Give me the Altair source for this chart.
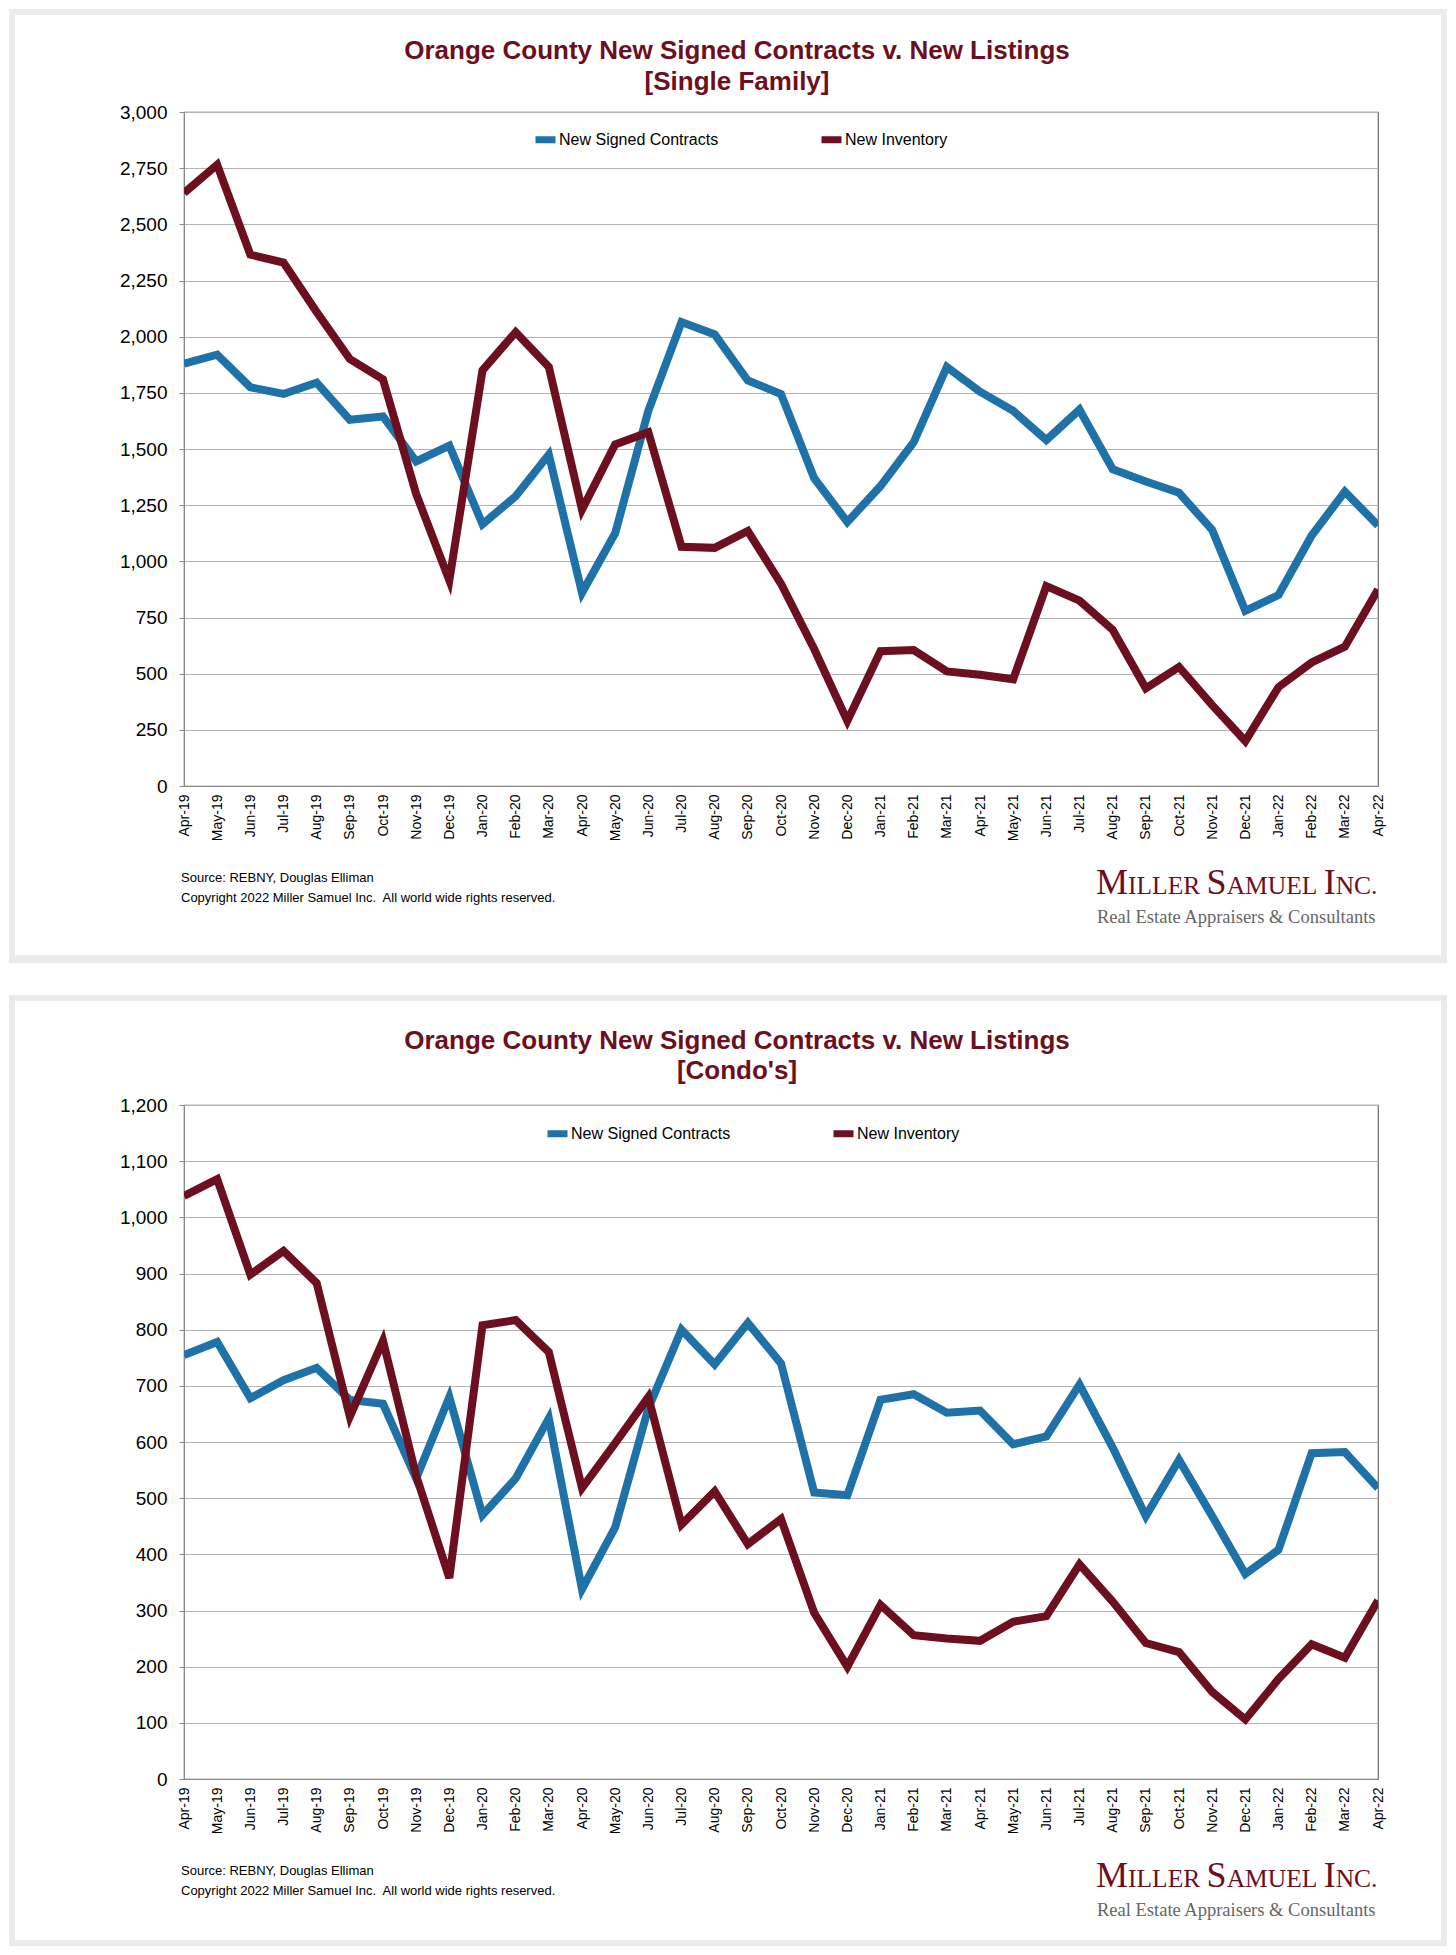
import altair as alt
import pandas as pd

MONTHS = ["Apr-19", "May-19", "Jun-19", "Jul-19", "Aug-19", "Sep-19", "Oct-19", "Nov-19", "Dec-19",
          "Jan-20", "Feb-20", "Mar-20", "Apr-20", "May-20", "Jun-20", "Jul-20", "Aug-20", "Sep-20",
          "Oct-20", "Nov-20", "Dec-20", "Jan-21", "Feb-21", "Mar-21", "Apr-21", "May-21", "Jun-21",
          "Jul-21", "Aug-21", "Sep-21", "Oct-21", "Nov-21", "Dec-21", "Jan-22", "Feb-22", "Mar-22",
          "Apr-22"]

SF_CONTRACTS = [1880, 1920, 1775, 1745, 1795, 1630, 1645, 1445, 1515, 1165, 1290, 1475, 860,
                1125, 1670, 2065, 2010, 1805, 1745, 1370, 1175, 1335, 1530, 1865, 1755, 1670,
                1540, 1675, 1410, 1355, 1305, 1140, 780, 850, 1115, 1310, 1160]
SF_INVENTORY = [2640, 2765, 2365, 2330, 2110, 1900, 1810, 1300, 915, 1850, 2020, 1865, 1230,
                1520, 1575, 1065, 1060, 1135, 900, 610, 290, 600, 605, 510, 495, 475, 890, 825,
                695, 435, 530, 360, 200, 440, 550, 620, 875]

CONDO_CONTRACTS = [755, 778, 678, 710, 732, 675, 668, 535, 680, 470, 535, 642, 338, 448, 660,
                   800, 738, 812, 740, 510, 505, 675, 685, 652, 656, 596, 610, 702, 590, 468,
                   568, 468, 365, 408, 580, 582, 518]
CONDO_INVENTORY = [1038, 1068, 898, 940, 883, 645, 780, 540, 358, 808, 817, 760, 518, 598, 680,
                   453, 512, 418, 463, 296, 200, 310, 256, 250, 246, 280, 290, 382, 316, 242,
                   226, 155, 106, 178, 240, 216, 318]

SF_TICKS = [0, 250, 500, 750, 1000, 1250, 1500, 1750, 2000, 2250, 2500, 2750, 3000]
CONDO_TICKS = [0, 100, 200, 300, 400, 500, 600, 700, 800, 900, 1000, 1100, 1200]

SERIES = ["New Signed Contracts", "New Inventory"]
COLORS = ["#1f72a8", "#6c0f1e"]

TITLE_MAIN = "Orange County New Signed Contracts v. New Listings"
SF_SUB = "[Single Family]"
CONDO_SUB = "[Condo's]"
SOURCE = "Source: REBNY, Douglas Elliman"
COPYRIGHT = "Copyright 2022 Miller Samuel Inc.\u00a0 All world wide rights reserved."
# logo in small caps: (text, is_initial)
LOGO_PARTS = [("M", True), ("ILLER", False), ("S", True), ("AMUEL", False), ("I", True), ("NC.", False)]
LOGO_SUB = "Real Estate Appraisers & Consultants"

W, H = 1194, 674
FONT = "Liberation Sans, Arial, sans-serif"
SERIF = "Liberation Serif, Times New Roman, serif"
MAROON = "#6c0f1e"
FRAME = "#ebebeb"


def text_layer(txt, x, y, size, color, weight="normal", align="left", font=FONT, baseline="middle"):
    return alt.Chart(pd.DataFrame({"k": [0]})).mark_text(
        text=txt, font=font, fontSize=size, fontWeight=weight, color=color,
        align=align, baseline=baseline
    ).encode(x=alt.value(x), y=alt.value(y))


def strip(x1, x2, y1, y2):
    return alt.Chart(pd.DataFrame({"k": [0]})).mark_rect(color=FRAME).encode(
        x=alt.value(x1), x2=alt.value(x2), y=alt.value(y1), y2=alt.value(y2))


# Times-metric widths (em) for the small-caps logo
TIMES_CAPS = {"M": 0.889, "I": 0.333, "L": 0.611, "E": 0.611, "R": 0.667, "S": 0.556,
              "A": 0.722, "U": 0.722, "N": 0.722, "C": 0.667, ".": 0.25}


def logo_layers(x0, baseline_y):
    layers = []
    x = x0
    big, small = 36, 25.5
    for j, (txt, initial) in enumerate(LOGO_PARTS):
        size = big if initial else small
        layers.append(text_layer(txt, x, baseline_y, size, MAROON, font=SERIF, baseline="alphabetic"))
        x += sum(TIMES_CAPS[c] for c in txt) * size
        if not initial and j < len(LOGO_PARTS) - 1:
            x += 0.25 * small
    return layers


def panel(subtitle, contracts, inventory, ticks, legend_x, legend_y, title_y, frame):
    rows = []
    for i, m in enumerate(MONTHS):
        rows.append({"Month": m, "idx": i, "Series": SERIES[0], "Value": contracts[i]})
        rows.append({"Month": m, "idx": i, "Series": SERIES[1], "Value": inventory[i]})
    df = pd.DataFrame(rows)

    xscale = alt.Scale(type="point", domain=MONTHS, padding=0)
    yscale = alt.Scale(domain=[0, ticks[-1]], nice=False, zero=True)
    g_top, g_bot, w_top, w_bot = frame
    L, R, Li, Ri = -175, 1263, -169, 1257

    strips = [strip(L, Li, g_top, g_bot), strip(Ri, R, g_top, g_bot),
              strip(L, R, g_top, w_top), strip(L, R, w_bot, g_bot)]

    lines = alt.Chart(df).mark_line(strokeWidth=8, clip=True).encode(
        x=alt.X("Month:N", scale=xscale, axis=alt.Axis(
            title=None, labelAngle=270, labelFontSize=14, labelFont=FONT, labelColor="black",
            ticks=False, labelPadding=8, domainColor="#8a8a8a", grid=False,
            labelOverlap=False)),
        y=alt.Y("Value:Q", scale=yscale, axis=alt.Axis(
            title=None, values=ticks, format=",.0f", labelFontSize=19, labelFont=FONT,
            labelColor="black", tickSize=5, tickColor="#8a8a8a", domainColor="#8a8a8a",
            labelPadding=12, grid=True, gridColor="#b3b3b3", labelFlush=False)),
        color=alt.Color("Series:N", scale=alt.Scale(domain=SERIES, range=COLORS),
                        legend=alt.Legend(
                            title=None, orient="none", legendX=legend_x, legendY=legend_y,
                            direction="horizontal", symbolType="stroke", symbolStrokeWidth=7,
                            symbolSize=400, labelFontSize=16, labelFont=FONT,
                            labelColor="black", labelOffset=0, columnPadding=88, padding=0,
                            labelLimit=0)),
        order=alt.Order("idx:Q"),
    )

    texts = [
        text_layer(TITLE_MAIN, 553, title_y[0], 26, MAROON, weight="bold", align="center"),
        text_layer(subtitle, 553, title_y[1], 26, MAROON, weight="bold", align="center"),
        text_layer(SOURCE, -3, H + 92, 13, "black"),
        text_layer(COPYRIGHT, -3, H + 112, 13, "black"),
        text_layer(LOGO_SUB, 913, H + 137, 18.5, "#666666", font=SERIF, baseline="alphabetic"),
    ] + logo_layers(912, H + 108)

    return alt.layer(*strips, lines, *texts).properties(width=W, height=H)


p1 = panel(SF_SUB, SF_CONTRACTS, SF_INVENTORY, SF_TICKS, 348, 14, (-61, -30),
           (-103, 851, -97, 843))
p2 = panel(CONDO_SUB, CONDO_CONTRACTS, CONDO_INVENTORY, CONDO_TICKS, 360, 15, (-64, -34),
           (-110, 841, -104, 835))

chart = alt.vconcat(p1, p2, spacing=30).resolve_scale(
    x="independent", y="independent", color="independent"
).resolve_legend(color="independent").properties(padding=0).configure(
    font=FONT, background="white"
).configure_view(stroke="#6a6a6a", strokeWidth=1.2)

chart.save("out.html", embed_options={"renderer": "svg", "actions": False})
